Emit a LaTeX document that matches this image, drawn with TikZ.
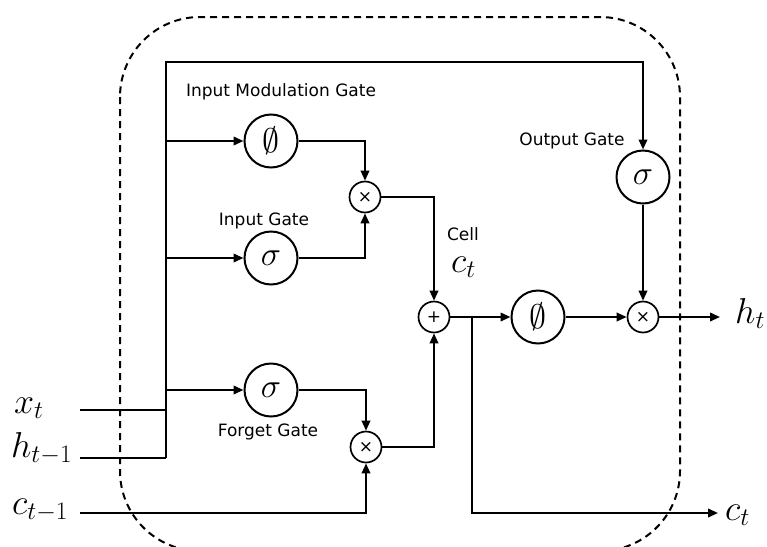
\RequirePackage{fix-cm}
\documentclass[tikz,border=0pt]{standalone}
\usepackage{fontspec}
\setmainfont{DejaVu Sans}
\usetikzlibrary{arrows.meta}
\begin{document}
\begin{tikzpicture}[x=1pt,y=-1pt,
  wire/.style={line width=2.1pt},
  arr/.style={wire,-{Triangle[length=10pt,width=8.5pt]}},
  gate/.style={circle,draw,line width=2pt,minimum size=53pt,inner sep=0pt},
  op/.style={circle,draw,line width=1.7pt,minimum size=31pt,inner sep=0pt,font=\fontsize{17}{18}\selectfont},
  lbl/.style={font=\fontsize{17}{18}\selectfont,inner sep=0pt},
  var/.style={font=\fontsize{36}{38}\selectfont,inner sep=0pt},
  sym/.style={font=\fontsize{34}{36}\selectfont}]
\useasboundingbox (0,0) rectangle (767,546);
\begin{scope}
  \clip (0,0) rectangle (767,546);
  \draw[line width=2pt,dash pattern=on 7pt off 5pt,rounded corners=80pt] (120,17) rectangle (680,551);
\end{scope}
% gates
\node[gate,sym] (mod) at (271,141) {$\emptyset$};
\node[gate,sym] (ing) at (271,258) {$\sigma$};
\node[gate,sym] (fg) at (271,390) {$\sigma$};
\node[gate,sym] (og) at (643,177) {$\sigma$};
\node[gate,sym] (tanh) at (538,317) {$\emptyset$};
\node[op] (m1) at (365,197) {×};
\node[op] (add) at (434,317) {+};
\node[op] (m2) at (366,447) {×};
\node[op] (m3) at (643,317) {×};
% labels
\node[lbl] (lmod) at (281,92) {Input Modulation Gate};
\node[lbl] (ling) at (264,221) {Input Gate};
\node[lbl] (lfg) at (268,432) {Forget Gate};
\node[lbl] (log) at (572,141) {Output Gate};
\node[lbl] (lcell) at (463,234) {Cell};
\node[var,anchor=base west] (lct) at (451,272) {$c_t$};
\node[var,anchor=base west] (lxt) at (14,413) {$x_t$};
\node[var,anchor=base west] (lht1) at (11,457) {$h_{t-1}$};
\node[var,anchor=base west] (lct1) at (12,514) {$c_{t-1}$};
\node[var,anchor=base west] (lht) at (735,323) {$h_t$};
\node[var,anchor=base west] (lcto) at (725,520) {$c_t$};
% coordinates
\coordinate (bt) at (166,62);
\coordinate (bb) at (166,458);
\coordinate (xin) at (80,410);
\coordinate (hin) at (80,458);
\coordinate (cin) at (80,513);
\coordinate (br) at (472,317);
\coordinate (cout) at (718,513);
\coordinate (hout) at (720,317);
% wires
\draw[arr] (bb) -- (bt) -| (og.north);
\draw[arr] (bt |- mod) -- (mod.west);
\draw[arr] (bt |- ing) -- (ing.west);
\draw[arr] (bt |- fg) -- (fg.west);
\draw[wire] (xin) -- (bt |- xin);
\draw[wire] (hin) -- (bb);
\draw[arr] (mod.east) -| (m1.north);
\draw[arr] (ing.east) -| (m1.south);
\draw[arr] (m1.east) -| (add.north);
\draw[arr] (fg.east) -| (m2.north);
\draw[arr] (m2.east) -| (add.south);
\draw[arr] (cin) -| (m2.south);
\draw[arr] (add.east) -- (tanh.west);
\draw[arr] (br) |- (cout);
\draw[arr] (tanh.east) -- (m3.west);
\draw[arr] (og.south) -- (m3.north);
\draw[arr] (m3.east) -- (hout);
\end{tikzpicture}
\end{document}
